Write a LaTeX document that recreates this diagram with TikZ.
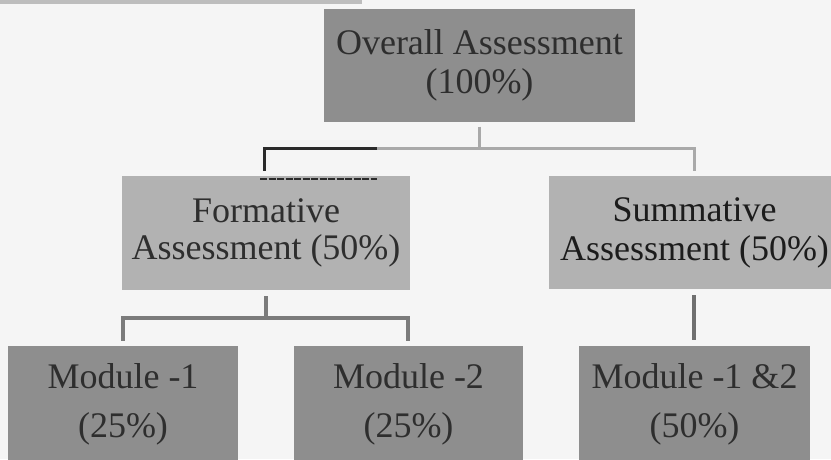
\documentclass[tikz,border=0pt]{standalone}
\usepackage{fontspec}
\setmainfont{Liberation Serif}
\definecolor{bgc}{HTML}{F5F5F5}
\definecolor{stripc}{HTML}{BDBDBD}
\definecolor{darkfill}{HTML}{8E8E8E}
\definecolor{lightfill}{HTML}{B2B2B2}
\definecolor{txt}{HTML}{2E2E2E}
\definecolor{txtdark}{HTML}{1C1C1C}
\definecolor{lightline}{HTML}{A9A9A9}
\definecolor{blackline}{HTML}{2A2A2A}
\definecolor{midline}{HTML}{7B7B7B}
\definecolor{darkline}{HTML}{6F6F6F}
\begin{document}
\begin{tikzpicture}[x=1pt,y=-1pt,
  box/.style={rectangle, inner sep=0pt, align=center, text=txt},
  darkbox/.style={box, fill=darkfill},
  lightbox/.style={box, fill=lightfill},
  f39/.style={font=\fontsize{36}{39}\selectfont},
  f37/.style={font=\fontsize{36}{37}\selectfont},
  f49/.style={font=\fontsize{36}{49}\selectfont},
  lightconn/.style={draw=lightline, line width=3pt},
  blackconn/.style={draw=blackline, line width=3pt},
  midconn/.style={draw=midline, line width=3.5pt},
  darkconn/.style={draw=darkline, line width=4pt}]
\useasboundingbox (0,0) rectangle (831,459);
\clip (0,0) rectangle (831,459);
\fill[bgc] (0,0) rectangle (831,459);
\fill[stripc] (0,0) rectangle (362,4);

\node[darkbox, f39, minimum width=311pt, minimum height=113pt] (top) at (479.5,65) {Overall Assessment\\(100\%)};
\node[lightbox, f37, minimum width=288pt, minimum height=114pt] (form) at (266,233) {Formative\\Assessment (50\%)};
\node[lightbox, f39, text=txtdark, minimum width=291pt, minimum height=113pt] (summ) at (694.5,232.5) {Summative\\Assessment (50\%)};
\node[darkbox, f49, minimum width=230pt, minimum height=117pt] (m1) at (123,404.5) {Module -1\\(25\%)};
\node[darkbox, f49, minimum width=229pt, minimum height=117pt] (m2) at (408.5,404.5) {Module -2\\(25\%)};
\node[darkbox, f49, minimum width=231pt, minimum height=117pt] (m3) at (694.5,404.5) {Module -1 \&2\\(50\%)};

% top connector
\coordinate (j1) at (480,148);
\coordinate (hL) at (264,148);
\coordinate (hR) at (694,148);
\coordinate (hB) at (377,148);
\draw[lightconn, shorten <=5pt] (top.south) -- (top.south |- j1);
\draw[lightconn, shorten >=5pt] (hL) -- (hR) -- (hR |- summ.north);
\draw[blackconn, shorten >=5pt] (hB) -- (hL) -- (hL |- form.north);
\coordinate (eL) at (260,179);
\coordinate (eR) at (377,179);
\draw[blackline, line width=1.5pt, dash pattern=on 7pt off 1.5pt] (eL) -- (eR);

% formative connector
\coordinate (j2) at (266,318);
\coordinate (fL) at (123,318);
\coordinate (fR) at (408,318);
\draw[midconn, shorten <=6pt] (form.south) -- (form.south |- j2);
\draw[midconn, shorten <=5pt, shorten >=5pt] (fL |- m1.north) -- (fL) -- (fR) -- (fR |- m2.north);

% summative connector
\draw[darkconn, shorten <=6pt, shorten >=6pt] (summ.south -| hR) -- (hR |- m3.north);
\end{tikzpicture}
\end{document}
